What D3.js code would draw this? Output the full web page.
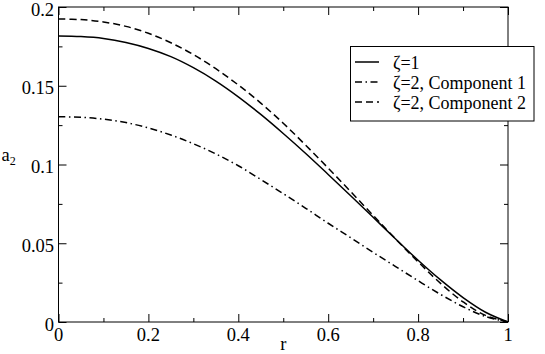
<!DOCTYPE html>
<html><head><meta charset="utf-8">
<script src="https://cdn.jsdelivr.net/npm/d3@7"></script>
<style>body{margin:0;background:#fff}svg{display:block}text{font-family:"Liberation Serif","Times New Roman",serif;fill:#000}</style>
</head><body><svg id="c" width="545" height="354"></svg>
<script>
const rValues = [0,0.05,0.1,0.15,0.2,0.25,0.3,0.35,0.4,0.45,0.5,0.55,0.6,0.65,0.7,0.75,0.8,0.85,0.9,0.95,1.0];
const zeta1 = [0.1816,0.1812,0.1800,0.1775,0.1737,0.1685,0.1615,0.1530,0.1430,0.1318,0.1197,0.1070,0.0937,0.0802,0.0665,0.0527,0.0392,0.0267,0.0155,0.0062,0];
const zeta2c1 = [0.1303,0.1300,0.1288,0.1266,0.1232,0.1187,0.1132,0.1067,0.0992,0.0905,0.0815,0.0722,0.0627,0.0535,0.0442,0.0352,0.0262,0.0175,0.0097,0.0035,0];
const zeta2c2 = [0.1924,0.1920,0.1905,0.1877,0.1833,0.1773,0.1698,0.1608,0.1505,0.1390,0.1262,0.1122,0.0977,0.0828,0.0677,0.0527,0.0382,0.0245,0.0128,0.0042,0];
const seriesNames = ["ζ=1","ζ=2, Component 1","ζ=2, Component 2"];
const xMajorTicks = [0,0.2,0.4,0.6,0.8,1];
const xTickLabels = ["0","0.2","0.4","0.6","0.8","1"];
const xMinorTicks = [0.1,0.3,0.5,0.7,0.9];
const yMajorTicks = [0,0.05,0.1,0.15,0.2];
const yTickLabels = ["0","0.05","0.1","0.15","0.2"];
const yMinorTicks = [0.025,0.075,0.125,0.175];

const svg = d3.select("#c");
const L=58.5, R=508, T=7, B=322;
const x = d3.scaleLinear().domain([0,1]).range([L,R]);
const y = d3.scaleLinear().domain([0,0.2]).range([B,T]);

const styles = [
  {dash:null},
  {dash:"7,3.5,1.5,3.5"},
  {dash:"7,4"}
];
const data = [zeta1, zeta2c1, zeta2c2];

const line = d3.line().x((d,i)=>x(rValues[i])).y(d=>y(d)).curve(d3.curveCatmullRom.alpha(0.5));
data.forEach((s,k)=>{
  svg.append("path").datum(s).attr("d",line).attr("fill","none")
    .attr("stroke","#000").attr("stroke-width",1.5)
    .attr("stroke-dasharray",styles[k].dash);
});

svg.append("rect").attr("x",L).attr("y",T).attr("width",R-L).attr("height",B-T)
  .attr("fill","none").attr("stroke","#000").attr("stroke-width",1);

function addAxis(axis, tr){ const g=svg.append("g").attr("transform",tr).call(axis);
  g.select(".domain").remove(); g.selectAll("text").remove(); g.selectAll("line").attr("stroke","#000"); return g;}
addAxis(d3.axisBottom(x).tickValues(xMajorTicks).tickSizeInner(-8).tickSizeOuter(0),`translate(0,${B})`);
addAxis(d3.axisBottom(x).tickValues(xMinorTicks).tickSizeInner(-4).tickSizeOuter(0),`translate(0,${B})`);
addAxis(d3.axisTop(x).tickValues(xMajorTicks).tickSizeInner(-8).tickSizeOuter(0),`translate(0,${T})`);
addAxis(d3.axisTop(x).tickValues(xMinorTicks).tickSizeInner(-4).tickSizeOuter(0),`translate(0,${T})`);
addAxis(d3.axisLeft(y).tickValues(yMajorTicks).tickSizeInner(-8).tickSizeOuter(0),`translate(${L},0)`);
addAxis(d3.axisLeft(y).tickValues(yMinorTicks).tickSizeInner(-4).tickSizeOuter(0),`translate(${L},0)`);
addAxis(d3.axisRight(y).tickValues(yMajorTicks).tickSizeInner(-8).tickSizeOuter(0),`translate(${R},0)`);
addAxis(d3.axisRight(y).tickValues(yMinorTicks).tickSizeInner(-4).tickSizeOuter(0),`translate(${R},0)`);

svg.selectAll(".xl").data(xMajorTicks).enter().append("text")
  .attr("x",d=>x(d)).attr("y",340.5).attr("text-anchor","middle")
  .attr("font-size",18.5).text((d,i)=>xTickLabels[i]);
svg.selectAll(".yl").data(yMajorTicks).enter().append("text")
  .attr("x",54).attr("y",d=>y(d)+8.5).attr("text-anchor","end")
  .attr("font-size",18.5).text((d,i)=>yTickLabels[i]);

svg.append("text").attr("x",(L+R)/2).attr("y",350).attr("text-anchor","middle").attr("font-size",18.5).text("r");
const yt = svg.append("text").attr("x",1.5).attr("y",161).attr("font-size",18.5);
yt.append("tspan").text("a");
yt.append("tspan").attr("font-size",12).attr("dy",4).text("2");

const lg = svg.append("g");
lg.append("rect").attr("x",350.5).attr("y",46.5).attr("width",183.5).attr("height",74.5)
  .attr("fill","#fff").attr("stroke","#000").attr("stroke-width",1);
seriesNames.forEach((n,k)=>{
  const cy = 62 + k*20;
  lg.append("line").attr("x1",355).attr("x2",379).attr("y1",cy).attr("y2",cy)
    .attr("stroke","#000").attr("stroke-width",1.5).attr("stroke-dasharray",styles[k].dash);
  lg.append("text").attr("x",393).attr("y",cy+6.5).attr("font-size",18).text(n);
});
</script></body></html>
